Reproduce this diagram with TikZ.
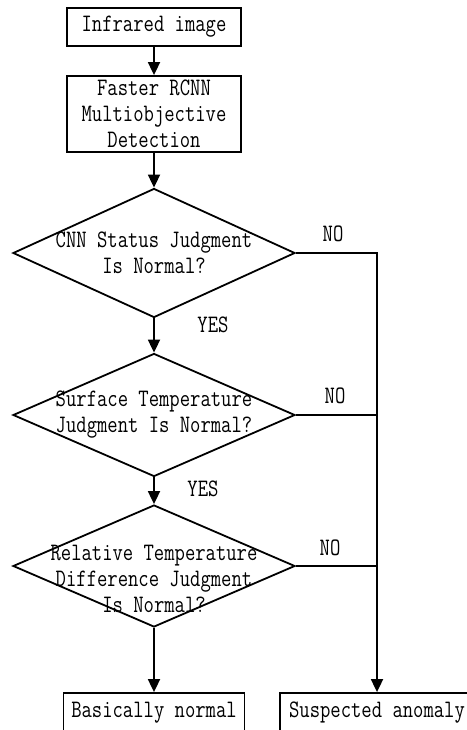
\documentclass[tikz,border=0pt]{standalone}
\usepackage{fontspec}
\setmonofont{Latin Modern Mono}[FakeStretch=0.8]
\usetikzlibrary{shapes.geometric,arrows.meta}
\begin{document}
\begin{tikzpicture}[
  x=1bp, y=-1bp,
  every node/.style={font=\ttfamily\fontsize{25.2}{26}\selectfont},
  procbox/.style={rectangle, draw, line width=1.8bp, minimum width=174bp, align=center, inner sep=0pt},
  decision/.style={diamond, draw, line width=1.8bp, minimum width=282bp, inner sep=0pt},
  arrow/.style={-{Triangle[width=12bp,length=13bp]}, line width=1.8bp},
  link/.style={line width=1.8bp}
]
  \useasboundingbox (0,0) rectangle (467,730);
  \clip (0,0) rectangle (467,730);

  % Detection stage (top)
  \node[procbox, minimum height=38bp] (img) at (154,27) {Infrared image};
  \node[procbox, minimum height=76bp] (rcnn) at (154,114) {Faster RCNN\\Multiobjective\\Detection};

  % Three judgments
  \node[decision, minimum height=129bp, label={[align=center]center:CNN Status Judgment\\Is Normal?}] (cnn) at (154,253) {};
  \node[decision, minimum height=123bp, label={[align=center]center:Surface Temperature\\Judgment Is Normal?}] (surf) at (154,415) {};
  \node[decision, minimum height=122bp, label={[align=center, yshift=-13bp]center:Relative Temperature\\Difference Judgment\\Is Normal?}] (rel) at (154,566) {};

  % Results (bottom, cut off by the page)
  \node[procbox, minimum width=181bp, minimum height=40bp] (normal) at (154,713) {Basically normal};
  \node[procbox, minimum width=194bp, minimum height=40bp] (anom) at (377,713) {Suspected anomaly};

  % Branch labels
  \node (no1) at (333,234) {NO};
  \node (no2) at (335,396) {NO};
  \node (no3) at (330,548) {NO};
  \node (yes1) at (213,325) {YES};
  \node (yes2) at (203,489) {YES};

  % Arrows
  \draw[arrow] (img.south) -- (rcnn.north);
  \draw[arrow] (rcnn.south) -- (cnn.north);
  \draw[arrow] (cnn.south) -- (surf.north);
  \draw[arrow] (surf.south) -- (rel.north);
  \draw[arrow] (rel.south) -- (normal.north);
  \draw[arrow] (cnn.east) -| (anom.north);
  \draw[link] (surf.east) -- (surf.east -| anom.north);
  \draw[link] (rel.east) -- (rel.east -| anom.north);
\end{tikzpicture}
\end{document}
